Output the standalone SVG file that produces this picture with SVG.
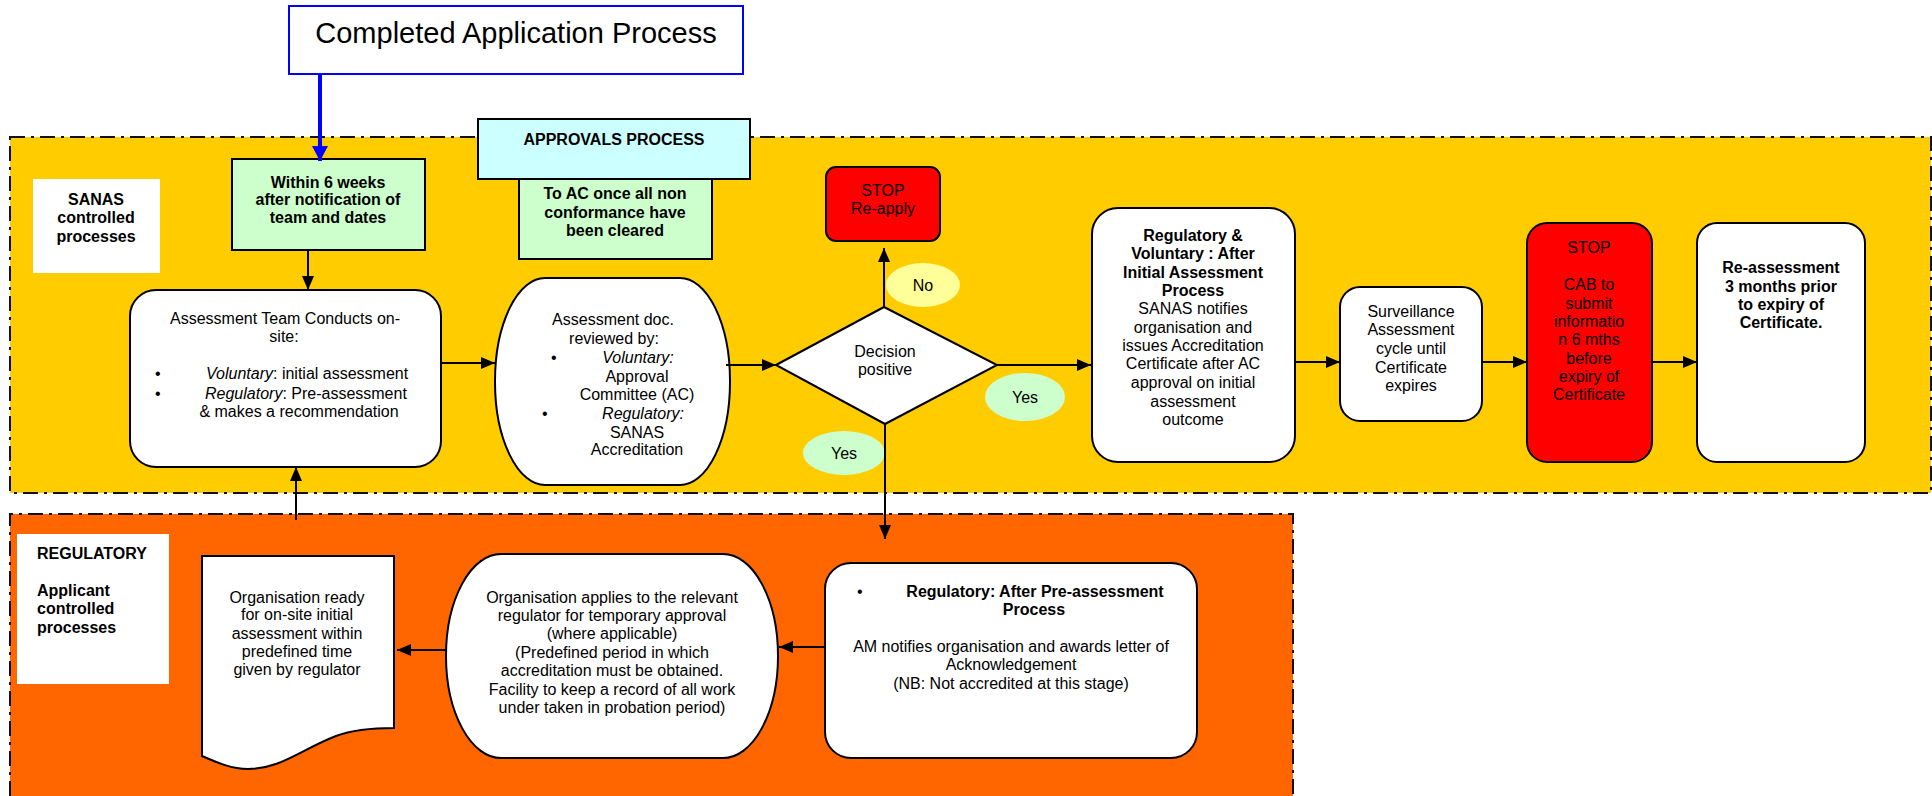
<svg xmlns="http://www.w3.org/2000/svg" width="1932" height="796" viewBox="0 0 1932 796">
<style>
text{font-family:"Liberation Sans",Arial,Helvetica,sans-serif;font-size:16px;fill:#000}
.c{text-anchor:middle}
.b{font-weight:bold}
.i{font-style:italic}
.box{stroke:#000;stroke-width:2}
.w{fill:#fff}
.band{stroke:#111;stroke-width:2;stroke-dasharray:15 6 3 6}
.ln{stroke:#000;stroke-width:2;fill:none;marker-end:url(#ah)}
</style>
<defs>
<marker id="ah" markerUnits="userSpaceOnUse" viewBox="0 0 14 12" markerWidth="14" markerHeight="12" refX="14" refY="6" orient="auto"><path d="M0,0 L14,6 L0,12 z" fill="#000"/></marker>
<marker id="ahb" markerUnits="userSpaceOnUse" viewBox="0 0 15 16" markerWidth="15" markerHeight="16" refX="15" refY="8" orient="auto"><path d="M0,0 L15,8 L0,16 z" fill="#0000ff"/></marker>
</defs>

<g id="bands">
<rect x="10" y="137" width="1921" height="356" fill="#ffcc00" class="band"/>
<path d="M10,796 V514 H1293 V796" fill="#ff6600" class="band"/>
</g>

<g id="title">
<rect x="289" y="6" width="454" height="68" fill="#fff" stroke="#0000ff" stroke-width="2"/>
<text x="516" y="43" class="c" style="font-size:29px">Completed Application Process</text>
</g>

<g id="sanas-label">
<rect x="33" y="179" width="127" height="94" fill="#fff"/>
<text class="c b" x="96"><tspan x="96" y="205">SANAS</tspan><tspan x="96" y="223">controlled</tspan><tspan x="96" y="242">processes</tspan></text>
</g>

<g id="within">
<rect x="232" y="159" width="193" height="91" fill="#ccffcc" class="box"/>
<text class="c b"><tspan x="328" y="188">Within 6 weeks</tspan><tspan x="328" y="205">after notification of</tspan><tspan x="328" y="223">team and dates</tspan></text>
</g>

<g id="approvals">
<rect x="519" y="179" width="193" height="80" fill="#ccffcc" class="box"/>
<rect x="478" y="119" width="272" height="60" fill="#ccffff" class="box"/>
<text class="c b" x="614" y="145">APPROVALS PROCESS</text>
<text class="c b"><tspan x="615" y="199">To AC once all non</tspan><tspan x="615" y="218">conformance have</tspan><tspan x="615" y="236">been cleared</tspan></text>
</g>

<g id="assessment-team">
<rect x="130" y="290" width="311" height="177" rx="26" class="box w"/>
<text class="c" x="285" y="324">Assessment Team Conducts on-</text>
<text class="c" x="284" y="342">site:</text>
<text x="155" y="379">•</text>
<text x="206" y="379"><tspan class="i">Voluntary</tspan>: initial assessment</text>
<text x="155" y="399">•</text>
<text x="205" y="399"><tspan class="i">Regulatory</tspan>: Pre-assessment</text>
<text class="c" x="299" y="417">&amp; makes a recommendation</text>
</g>

<g id="assessment-doc">
<rect x="495" y="278" width="235" height="207" rx="50" ry="103" class="box w"/>
<text class="c"><tspan x="613" y="325">Assessment doc.</tspan><tspan x="614" y="344">reviewed by:</tspan></text>
<text x="551" y="363">•</text>
<text class="c i" x="638" y="363">Voluntary:</text>
<text class="c"><tspan x="637" y="382">Approval</tspan><tspan x="637" y="400">Committee (AC)</tspan></text>
<text x="542" y="419">•</text>
<text class="c i" x="643" y="419">Regulatory:</text>
<text class="c"><tspan x="637" y="438">SANAS</tspan><tspan x="637" y="455">Accreditation</tspan></text>
</g>

<g id="decision">
<polygon points="776,365 884,307 997,365 885,424" class="box w"/>
<text class="c"><tspan x="885" y="357">Decision</tspan><tspan x="885" y="375">positive</tspan></text>
</g>

<g id="stop-reapply">
<rect x="826" y="167" width="114" height="74" rx="10" fill="#ff0000" class="box"/>
<text class="c"><tspan x="883" y="196">STOP</tspan><tspan x="883" y="214">Re-apply</tspan></text>
</g>

<g id="label-no">
<ellipse cx="923" cy="285" rx="37" ry="22" fill="#ffff99"/>
<text class="c" x="923" y="291">No</text>
</g>
<g id="label-yes-right">
<ellipse cx="1025" cy="397" rx="40" ry="24" fill="#ccffcc"/>
<text class="c" x="1025" y="403">Yes</text>
</g>
<g id="label-yes-down">
<ellipse cx="844" cy="453" rx="41" ry="22" fill="#ccffcc"/>
<text class="c" x="844" y="459">Yes</text>
</g>

<g id="after-initial">
<rect x="1092" y="208" width="203" height="254" rx="26" class="box w"/>
<text class="c b"><tspan x="1193" y="241">Regulatory &amp;</tspan><tspan x="1193" y="259">Voluntary : After</tspan><tspan x="1193" y="278">Initial Assessment</tspan><tspan x="1193" y="296">Process</tspan></text>
<text class="c"><tspan x="1193" y="314">SANAS notifies</tspan><tspan x="1193" y="333">organisation and</tspan><tspan x="1193" y="351">issues Accreditation</tspan><tspan x="1193" y="369">Certificate after AC</tspan><tspan x="1193" y="388">approval on initial</tspan><tspan x="1193" y="407">assessment</tspan><tspan x="1193" y="425">outcome</tspan></text>
</g>

<g id="surveillance">
<rect x="1340" y="287" width="142" height="134" rx="20" class="box w"/>
<text class="c"><tspan x="1411" y="317">Surveillance</tspan><tspan x="1411" y="335">Assessment</tspan><tspan x="1411" y="354">cycle until</tspan><tspan x="1411" y="373">Certificate</tspan><tspan x="1411" y="391">expires</tspan></text>
</g>

<g id="stop-cab">
<rect x="1527" y="223" width="125" height="239" rx="20" fill="#ff0000" class="box"/>
<text class="c"><tspan x="1589" y="253">STOP</tspan><tspan x="1589" y="290">CAB to</tspan><tspan x="1589" y="309">submit</tspan><tspan x="1589" y="327">informatio</tspan><tspan x="1589" y="345">n 6 mths</tspan><tspan x="1589" y="364">before</tspan><tspan x="1589" y="382">expiry of</tspan><tspan x="1589" y="400">Certificate</tspan></text>
</g>

<g id="reassessment">
<rect x="1697" y="223" width="168" height="239" rx="20" class="box w"/>
<text class="c b"><tspan x="1781" y="273">Re-assessment</tspan><tspan x="1781" y="292">3 months prior</tspan><tspan x="1781" y="310">to expiry of</tspan><tspan x="1781" y="328">Certificate.</tspan></text>
</g>

<g id="regulatory-label">
<rect x="17" y="534" width="152" height="150" fill="#fff"/>
<text class="b"><tspan x="37" y="559">REGULATORY</tspan><tspan x="37" y="596">Applicant</tspan><tspan x="37" y="614">controlled</tspan><tspan x="37" y="633">processes</tspan></text>
</g>

<g id="org-ready">
<path d="M202,556 H394 V728 C370,728 352,730 336,736 C300,750 280,769 248,769 C232,769 218,763 202,756 Z" class="box w"/>
<text class="c"><tspan x="297" y="603">Organisation ready</tspan><tspan x="297" y="620">for on-site initial</tspan><tspan x="297" y="639">assessment within</tspan><tspan x="297" y="657">predefined time</tspan><tspan x="297" y="675">given by regulator</tspan></text>
</g>

<g id="org-applies">
<rect x="446" y="554" width="332" height="204" rx="55" ry="102" class="box w"/>
<text class="c"><tspan x="612" y="603">Organisation applies to the relevant</tspan><tspan x="612" y="621">regulator for temporary approval</tspan><tspan x="612" y="639">(where applicable)</tspan><tspan x="612" y="658">(Predefined period in which</tspan><tspan x="612" y="676">accreditation must be obtained.</tspan><tspan x="612" y="695">Facility to keep a record of all work</tspan><tspan x="612" y="713">under taken in probation period)</tspan></text>
</g>

<g id="after-pre">
<rect x="825" y="563" width="372" height="195" rx="26" class="box w"/>
<text x="857" y="597">•</text>
<text class="c b"><tspan x="1035" y="597">Regulatory: After Pre-assessment</tspan><tspan x="1034" y="615">Process</tspan></text>
<text class="c"><tspan x="1011" y="652">AM notifies organisation and awards letter of</tspan><tspan x="1011" y="670">Acknowledgement</tspan><tspan x="1011" y="689">(NB: Not accredited at this stage)</tspan></text>
</g>

<g id="connectors">
<line x1="320" y1="74" x2="320" y2="161" stroke="#0000ff" stroke-width="4" marker-end="url(#ahb)"/>
<line x1="308" y1="250" x2="308" y2="290" class="ln"/>
<line x1="441" y1="363" x2="495" y2="363" class="ln"/>
<line x1="726" y1="365" x2="776" y2="365" class="ln"/>
<line x1="884" y1="307" x2="884" y2="248" class="ln"/>
<line x1="997" y1="365" x2="1091" y2="365" class="ln"/>
<line x1="885" y1="424" x2="885" y2="539" class="ln"/>
<line x1="1295" y1="362" x2="1340" y2="362" class="ln"/>
<line x1="1482" y1="362" x2="1527" y2="362" class="ln"/>
<line x1="1652" y1="362" x2="1697" y2="362" class="ln"/>
<line x1="825" y1="647" x2="779" y2="647" class="ln"/>
<line x1="446" y1="650" x2="397" y2="650" class="ln"/>
<line x1="296" y1="520" x2="296" y2="467" class="ln"/>
</g>
</svg>
